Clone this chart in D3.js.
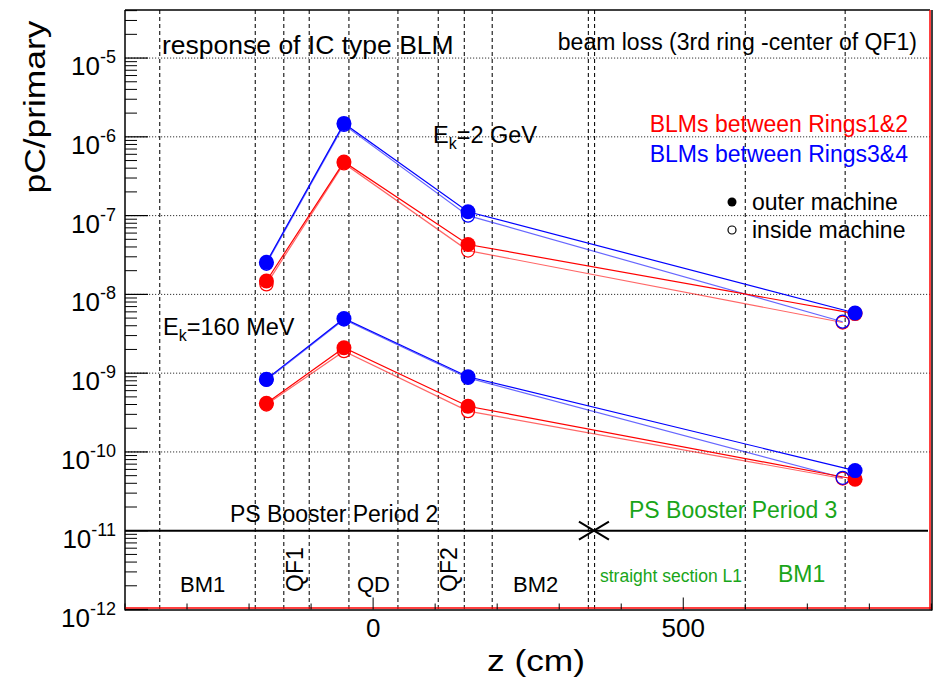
<!DOCTYPE html>
<html>
<head>
<meta charset="utf-8">
<style>
  html, body { margin: 0; padding: 0; background: #fff; }
  svg { display: block; font-family: "Liberation Sans", Arial, Helvetica, sans-serif; }
</style>
</head>
<body>
<script src="https://d3js.org/d3.v7.min.js"></script>
<script>
// z positions (cm) of the BLMs; the last BLM sits at a different z for outer / inside
var zOuter  = [-172, -47, 153, 777];
var zInside = [-172, -47, 153, 757];

// response (pC/primary), Ek = 2 GeV
var gev2_r12_outer  = [1.48e-8, 4.8e-7, 4.3e-8, 5.7e-9];
var gev2_r12_inside = [1.34e-8, 4.6e-7, 3.6e-8, 4.4e-9];
var gev2_r34_outer  = [2.55e-8, 1.48e-6, 1.12e-7, 5.8e-9];
var gev2_r34_inside = [2.45e-8, 1.42e-6, 1.0e-7, 4.5e-9];

// response (pC/primary), Ek = 160 MeV
var mev160_r12_outer  = [4.15e-10, 2.1e-9, 3.8e-10, 4.5e-11];
var mev160_r12_inside = [4.0e-10, 1.9e-9, 3.3e-10, 4.6e-11];
var mev160_r34_outer  = [8.4e-10, 4.95e-9, 9.0e-10, 5.8e-11];
var mev160_r34_inside = [8.2e-10, 4.8e-9, 8.7e-10, 4.7e-11];

// element boundaries (cm), drawn as dashed verticals
var boundaries = [-344, -190, -144, -103, -39, 40, 105, 147, 192, 347, 357, 600, 761];

var xTicksMajor = [0, 500];
var yDecades = [-12, -11, -10, -9, -8, -7, -6, -5];

var W = 936, H = 681;
var padL = 125, padR = 932, padT = 10, padB = 609.5;

var svg = d3.select('body').append('svg')
  .attr('width', W).attr('height', H);

var x = d3.scaleLinear().domain([-400, 901]).range([padL, padR]);
var y = d3.scaleLog().domain([1e-12, Math.pow(10, -4.39)]).range([padB, padT]);

var grid = svg.append('g');

// horizontal dotted grid at the decades
grid.selectAll('line.hg')
  .data(yDecades.filter(d => d >= -10))
  .enter().append('line')
  .attr('x1', padL).attr('x2', padR - 2)
  .attr('y1', d => y(Math.pow(10, d))).attr('y2', d => y(Math.pow(10, d)))
  .attr('stroke', '#333').attr('stroke-width', 1)
  .attr('stroke-dasharray', '1.2,1.8');

// dashed element boundaries
grid.selectAll('line.vb')
  .data(boundaries)
  .enter().append('line')
  .attr('x1', d => x(d)).attr('x2', d => x(d))
  .attr('y1', padT).attr('y2', padB)
  .attr('stroke', '#111').attr('stroke-width', 1.1)
  .attr('stroke-dasharray', '4,3');

// period separator line at 1e-11 and the cross
svg.append('line')
  .attr('x1', padL).attr('x2', 928)
  .attr('y1', y(1e-11)).attr('y2', y(1e-11))
  .attr('stroke', '#000').attr('stroke-width', 2);
var cx = x(356), cy = y(1e-11);
svg.append('path')
  .attr('d', 'M' + (cx - 15) + ',' + (cy - 9) + 'L' + (cx + 15) + ',' + (cy + 9) +
             'M' + (cx - 15) + ',' + (cy + 9) + 'L' + (cx + 15) + ',' + (cy - 9))
  .attr('stroke', '#000').attr('stroke-width', 2).attr('fill', 'none');

// frame
svg.append('line').attr('x1', padL).attr('x2', padR - 2).attr('y1', padT).attr('y2', padT)
  .attr('stroke', '#000').attr('stroke-width', 1.5);
svg.append('line').attr('x1', padL).attr('x2', padL).attr('y1', padT).attr('y2', padB + 1)
  .attr('stroke', '#000').attr('stroke-width', 1.5);
svg.append('line').attr('x1', padR).attr('x2', padR).attr('y1', padT).attr('y2', padB + 1)
  .attr('stroke', '#000').attr('stroke-width', 1.5);
svg.append('line').attr('x1', padR - 2).attr('x2', padR - 2).attr('y1', padT).attr('y2', padB)
  .attr('stroke', '#f00').attr('stroke-width', 1.5);
svg.append('line').attr('x1', padL).attr('x2', padR).attr('y1', padB - 1.5).attr('y2', padB - 1.5)
  .attr('stroke', '#f00').attr('stroke-width', 1.5);
svg.append('line').attr('x1', padL).attr('x2', padR).attr('y1', padB + 0.5).attr('y2', padB + 0.5)
  .attr('stroke', '#000').attr('stroke-width', 1.5);

// y ticks
var yMinor = [];
for (var e = -12; e < -4; e++) {
  for (var m = 2; m <= 9; m++) {
    var v = m * Math.pow(10, e);
    if (v < y.domain()[1]) yMinor.push(v);
  }
}
svg.selectAll('line.ymin').data(yMinor).enter().append('line')
  .attr('x1', padL).attr('x2', padL + 12)
  .attr('y1', d => y(d)).attr('y2', d => y(d))
  .attr('stroke', '#000').attr('stroke-width', 1);
svg.selectAll('line.ymaj').data(yDecades).enter().append('line')
  .attr('x1', padL).attr('x2', padL + 23)
  .attr('y1', d => y(Math.pow(10, d))).attr('y2', d => y(Math.pow(10, d)))
  .attr('stroke', '#000').attr('stroke-width', 1.2);

var yLab = svg.selectAll('text.ylab').data(yDecades).enter().append('text')
  .attr('x', 116).attr('y', d => y(Math.pow(10, d)) + 17)
  .attr('text-anchor', 'end').attr('font-size', 26).attr('fill', '#000');
yLab.append('tspan').text('10');
yLab.append('tspan').attr('dy', -12).attr('font-size', 18).text(d => '-' + Math.abs(d));

// x ticks
var xMinor = d3.range(-400, 901, 100).filter(d => xTicksMajor.indexOf(d) < 0);
svg.selectAll('line.xmin').data(xMinor).enter().append('line')
  .attr('x1', d => x(d)).attr('x2', d => x(d))
  .attr('y1', padB).attr('y2', padB - 6)
  .attr('stroke', '#000').attr('stroke-width', 1);
svg.selectAll('line.xmaj').data(xTicksMajor).enter().append('line')
  .attr('x1', d => x(d)).attr('x2', d => x(d))
  .attr('y1', padB).attr('y2', padB - 12)
  .attr('stroke', '#000').attr('stroke-width', 1);
svg.selectAll('text.xlab').data(xTicksMajor).enter().append('text')
  .attr('x', d => x(d)).attr('y', 637)
  .attr('text-anchor', 'middle').attr('font-size', 26)
  .text(d => d);

// axis titles
svg.append('text')
  .attr('transform', 'translate(45,107) rotate(-90)')
  .attr('text-anchor', 'middle').attr('font-size', 30)
  .attr('textLength', 173).attr('lengthAdjust', 'spacingAndGlyphs')
  .text('pC/primary');
svg.append('text')
  .attr('x', 585).attr('y', 671)
  .attr('text-anchor', 'end').attr('font-size', 30)
  .attr('textLength', 98).attr('lengthAdjust', 'spacingAndGlyphs')
  .text('z (cm)');

// series
var series = [
  {z: zInside, v: gev2_r12_inside,  color: '#f00', open: true},
  {z: zInside, v: gev2_r34_inside,  color: '#00f', open: true},
  {z: zInside, v: mev160_r12_inside, color: '#f00', open: true},
  {z: zInside, v: mev160_r34_inside, color: '#00f', open: true},
  {z: zOuter,  v: gev2_r12_outer,   color: '#f00', open: false},
  {z: zOuter,  v: gev2_r34_outer,   color: '#00f', open: false},
  {z: zOuter,  v: mev160_r12_outer,  color: '#f00', open: false},
  {z: zOuter,  v: mev160_r34_outer,  color: '#00f', open: false}
];

var line = d3.line().x(d => x(d[0])).y(d => y(d[1]));

series.forEach(function(s) {
  var pts = s.z.map((z, i) => [z, s.v[i]]);
  svg.append('path')
    .attr('d', line(pts))
    .attr('fill', 'none')
    .attr('stroke', s.color)
    .attr('stroke-opacity', s.open ? 0.6 : 1)
    .attr('stroke-width', 1.2);
});
series.forEach(function(s) {
  var pts = s.z.map((z, i) => [z, s.v[i]]);
  svg.append('g').selectAll('circle').data(pts).enter().append('circle')
    .attr('cx', d => x(d[0])).attr('cy', d => y(d[1]))
    .attr('r', s.open ? 6.5 : 7.5)
    .attr('fill', s.open ? 'none' : s.color)
    .attr('stroke', s.color)
    .attr('stroke-width', s.open ? 1.3 : 0);
});

// annotations
var green = '#19a519';
function label(txt, px, py, size, color, anchor) {
  return svg.append('text').attr('x', px).attr('y', py)
    .attr('font-size', size).attr('fill', color || '#000')
    .attr('text-anchor', anchor || 'start').text(txt);
}
label('response of IC type BLM', 162, 54, 26.5);
label('beam loss (3rd ring -center of QF1)', 917, 50, 23, '#000', 'end');
label('BLMs between Rings1&2', 908, 132, 23, '#f00', 'end');
label('BLMs between Rings3&4', 908, 162, 23, '#00f', 'end');
svg.append('circle').attr('cx', 732).attr('cy', 202).attr('r', 4.5).attr('fill', '#000');
label('outer machine', 752, 210, 23);
svg.append('circle').attr('cx', 732).attr('cy', 230).attr('r', 4).attr('fill', 'none')
  .attr('stroke', '#000').attr('stroke-width', 1.2);
label('inside machine', 752, 238, 23);

function ek(px, py, rest) {
  var t = svg.append('text').attr('x', px).attr('y', py).attr('font-size', 23.5);
  t.append('tspan').text('E');
  t.append('tspan').attr('dy', 6).attr('font-size', 16).text('k');
  t.append('tspan').attr('dy', -6).text(rest);
}
ek(433, 143, '=2 GeV');
ek(163, 335, '=160 MeV');

label('PS Booster Period 2', 230, 522, 23);
label('PS Booster Period 3', 629, 518, 23, green);
label('BM1', 180, 592, 22);
label('QD', 357, 592, 22);
label('BM2', 513, 592, 22);
label('straight section L1', 600, 582, 17.5, green);
label('BM1', 778, 582, 23, green);
svg.append('text').attr('transform', 'translate(303,592) rotate(-90)')
  .attr('font-size', 23).text('QF1');
svg.append('text').attr('transform', 'translate(457,592) rotate(-90)')
  .attr('font-size', 23).text('QF2');
</script>
</body>
</html>
